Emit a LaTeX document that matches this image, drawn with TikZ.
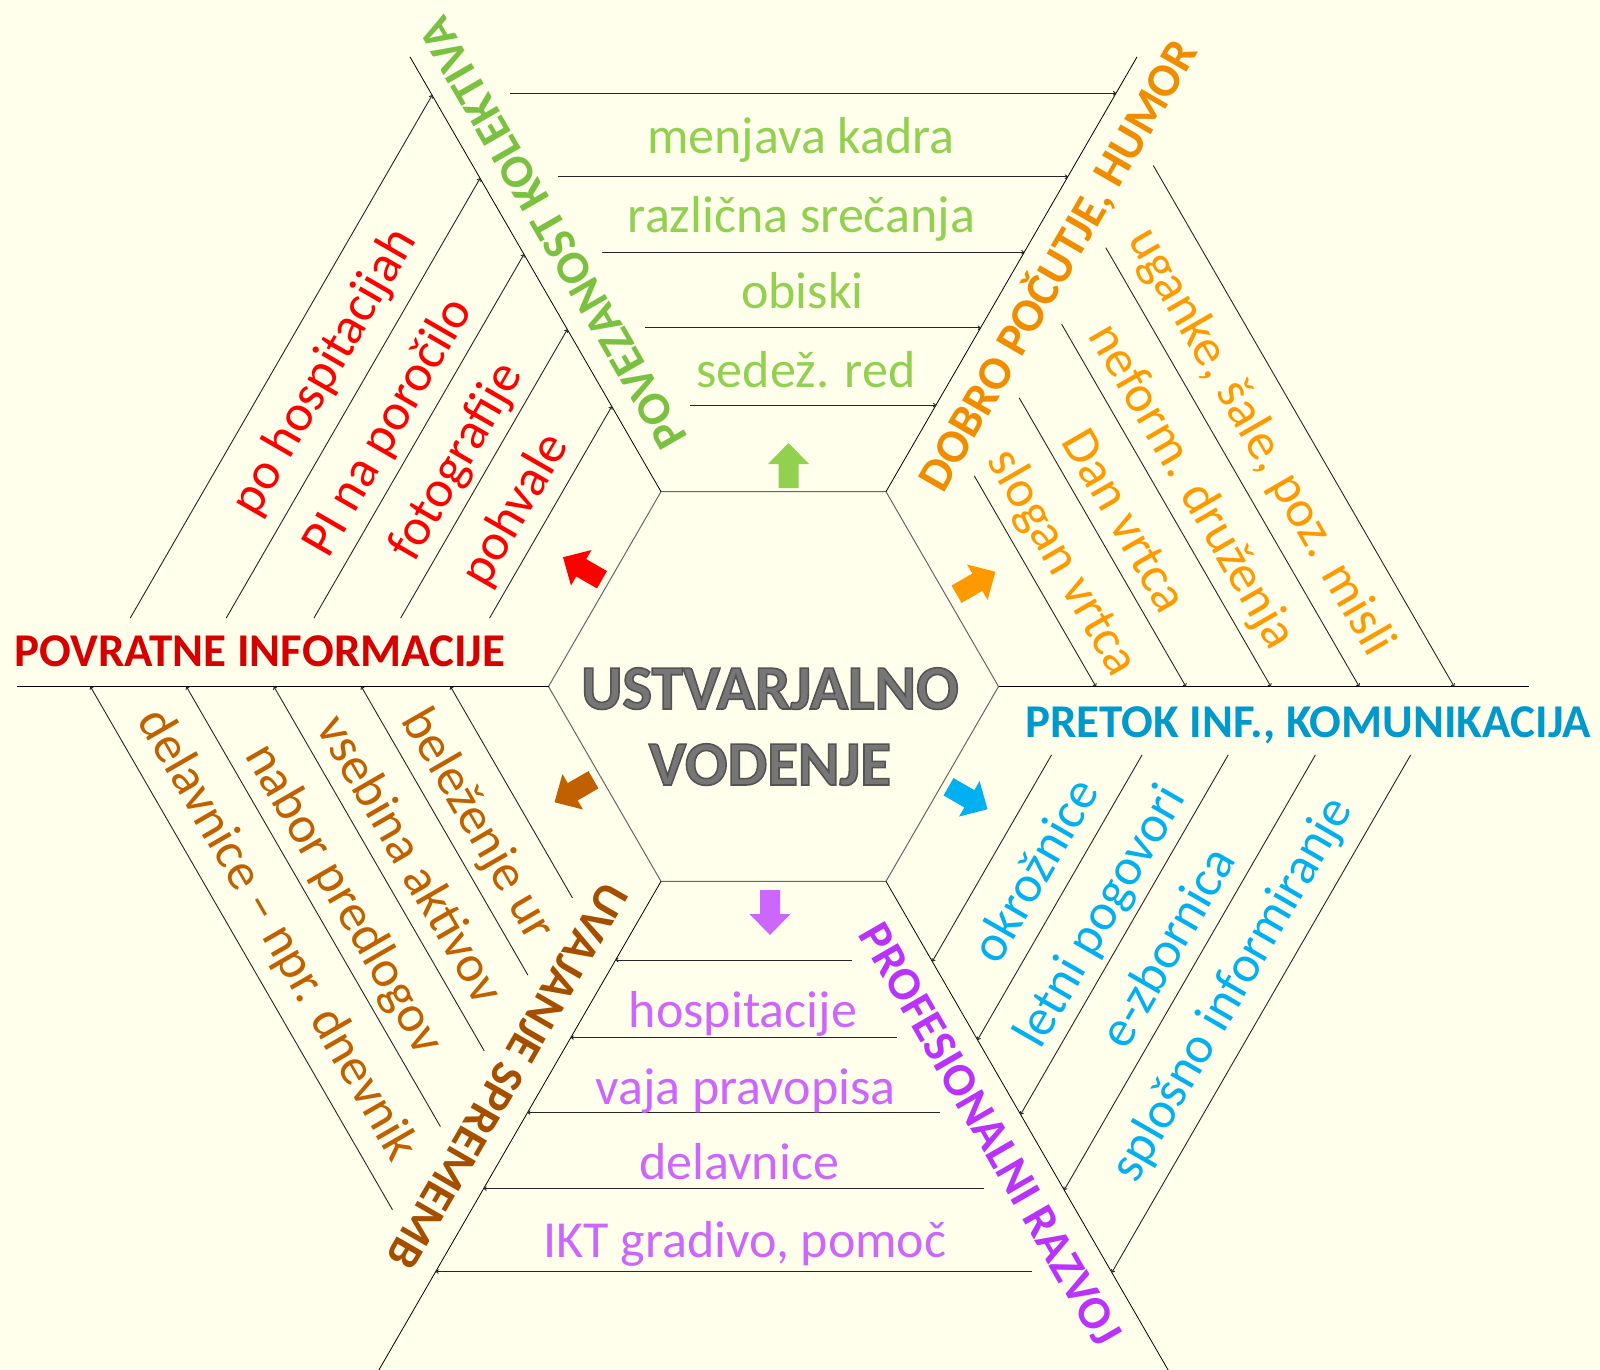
\documentclass[tikz,border=0pt]{standalone}
\usepackage{fontspec}
\setmainfont{Carlito}
\usetikzlibrary{arrows.meta,calc}
\definecolor{bg}{RGB}{255,255,235}
\definecolor{igreen}{RGB}{146,208,80}
\definecolor{lgreen}{RGB}{122,193,66}
\definecolor{iorange}{RGB}{255,153,0}
\definecolor{lorange}{RGB}{240,140,0}
\definecolor{iblue}{RGB}{0,176,240}
\definecolor{lblue}{RGB}{0,153,204}
\definecolor{ipurple}{RGB}{204,102,255}
\definecolor{lpurple}{RGB}{185,50,255}
\definecolor{ibrown}{RGB}{192,96,0}
\definecolor{lbrown}{RGB}{166,78,0}
\definecolor{ired}{RGB}{255,0,0}
\definecolor{lred}{RGB}{215,0,0}
\definecolor{cgray}{RGB}{118,118,118}
\newcommand{\myblockarrow}[4]{%
  \fill[#4, shift={(#1,-#2)}, rotate=#3] (-22.5,-10) -- (1.5,-10) -- (1.5,-20.5) -- (22.5,0) -- (1.5,20.5) -- (1.5,10) -- (-22.5,10) -- cycle;}
\newcommand{\myoutlined}[1]{\special{pdf:literal direct 2 Tr 1.6 w 0.33 G}#1\special{pdf:literal direct 0 Tr}}
\tikzset{
  itemtext/.style={font=\fontsize{52}{62}\selectfont, inner sep=0pt, text height=36.4pt, text depth=10.4pt, anchor=center},
  labeltext/.style={font=\bfseries\fontsize{47}{56}\selectfont, inner sep=0pt, text height=29.7pt, text depth=0pt, anchor=center},
  centertext/.style={font=\bfseries\fontsize{63}{76}\selectfont, inner sep=0pt, anchor=base, text=cgray},
  rib/.style={draw=black!85, line width=0.9pt, -{To[length=3pt,width=4.5pt]}},
  spoke/.style={draw=black, line width=0.8pt},
  hexedge/.style={draw=black!60, line width=1pt},
}
\begin{document}
\begin{tikzpicture}[x=1pt,y=1pt]
\useasboundingbox (0,0) rectangle (1600,-1369);
\fill[bg] (0,0) rectangle (1600,-1369);
\clip (0,0) rectangle (1600,-1369);
\coordinate (C) at (773.5,-686.5);
\foreach \k in {0,...,5} { \coordinate (V\k) at ($(C)+(60*\k:225)$); }
\coordinate (E0) at ($(C)+(0:755)$);
\coordinate (E1) at ($(C)+(60:727)$);
\coordinate (E2) at ($(C)+(120:727)$);
\coordinate (E3) at ($(C)+(180:757)$);
\coordinate (E4) at ($(C)+(240:820)$);
\coordinate (E5) at ($(C)+(300:820)$);
% hexagon and spokes
\draw[hexedge] (V0) -- (V1) -- (V2) -- (V3) -- (V4) -- (V5) -- cycle;
\foreach \k in {0,...,5} { \draw[spoke] (V\k) -- (E\k); }
% ribs
\foreach \D in {593.2,509.8,434.2,358.8,281.5} {
  \draw[rib] ($(C)+(90:\D)+(180:\D/1.7320508-79)$) -- ($(C)+(90:\D)+(0:\D/1.7320508)$); }
\foreach \D in {591.3,508.2,432.2,357.1,280.1} {
  \draw[rib] ($(C)+(150:\D)+(240:\D/1.7320508-79)$) -- ($(C)+(150:\D)+(60:\D/1.7320508)$); }
\foreach \D in {591.6,508.5,432.7,357,279.8} {
  \draw[rib] ($(C)+(210:\D)+(300:\D/1.7320508-79)$) -- ($(C)+(210:\D)+(120:\D/1.7320508)$); }
\foreach \D in {585,502,426,351,273.5} {
  \draw[rib] ($(C)+(270:\D)+(0:\D/1.7320508-79)$) -- ($(C)+(270:\D)+(180:\D/1.7320508)$); }
\foreach \D in {586,503.5,428,353.4,275} {
  \draw[rib] ($(C)+(330:\D)+(60:\D/1.7320508-79)$) -- ($(C)+(330:\D)+(240:\D/1.7320508)$); }
\foreach \D in {589.4,507.2,430.7,357.1,279.2} {
  \draw[rib] ($(C)+(30:\D)+(120:\D/1.7320508-79)$) -- ($(C)+(30:\D)+(-60:\D/1.7320508)$); }
% block arrows
\myblockarrow{788.5}{465.5}{90}{igreen}
\myblockarrow{582.5}{568.5}{150}{ired}
\myblockarrow{574}{791}{210}{ibrown}
\myblockarrow{770}{912.5}{270}{ipurple}
\myblockarrow{968}{798}{330}{iblue}
\myblockarrow{976}{583}{30}{iorange}
% top sector (green)
\node[itemtext, text=igreen] (g1) at ($(C)+(90:546.5)+(0:27.5)$) {menjava kadra};
\node[itemtext, text=igreen] (g2) at ($(C)+(90:467.5)+(0:28)$) {različna srečanja};
\node[itemtext, text=igreen] (g3) at ($(C)+(90:391.5)+(0:29)$) {obiski};
\node[itemtext, text=igreen] (g4) at ($(C)+(90:312.5)+(0:32.5)$) {sedež. red};
% upper-left sector (red)
\node[itemtext, text=ired, rotate=60] (r1) at ($(C)+(150:544.8)+(60:48)$) {po hospitacijah};
\node[itemtext, text=ired, rotate=60] (r2) at ($(C)+(150:461.7)+(60:32)$) {PI na poročilo};
\node[itemtext, text=ired, rotate=60] (r3) at ($(C)+(150:385.7)+(60:36)$) {fotografije};
\node[itemtext, text=ired, rotate=60] (r4) at ($(C)+(150:310.6)+(60:24)$) {pohvale};
% upper-right sector (orange)
\node[itemtext, text=iorange, rotate=-60] (o1) at ($(C)+(30:542.9)+(-60:32)$) {uganke, šale, poz. misli};
\node[itemtext, text=iorange, rotate=-60] (o2) at ($(C)+(30:460.7)+(-60:36)$) {neform. druženja};
\node[itemtext, text=iorange, rotate=-60] (o3) at ($(C)+(30:384.2)+(-60:32)$) {Dan vrtca};
\node[itemtext, text=iorange, rotate=-60] (o4) at ($(C)+(30:310.6)+(-60:37)$) {slogan vrtca};
% lower-left sector (brown)
\node[itemtext, text=ibrown, rotate=-60] (b1) at ($(C)+(210:555.5)+(120:33)$) {delavnice – npr. dnevnik};
\node[itemtext, text=ibrown, rotate=-60] (b2) at ($(C)+(210:479.7)+(120:30.6)$) {nabor predlogov};
\node[itemtext, text=ibrown, rotate=-60] (b3) at ($(C)+(210:404)+(120:31.6)$) {vsebina aktivov};
\node[itemtext, text=ibrown, rotate=-60] (b4) at ($(C)+(210:326.8)+(120:28)$) {beleženje ur};
% bottom sector (purple)
\node[itemtext, text=ipurple] (p1) at ($(C)+(270:327.5)+(180:30.5)$) {hospitacije};
\node[itemtext, text=ipurple] (p2) at ($(C)+(270:404.5)+(180:28)$) {vaja pravopisa};
\node[itemtext, text=ipurple] (p3) at ($(C)+(270:479.5)+(180:34.5)$) {delavnice};
\node[itemtext, text=ipurple] (p4) at ($(C)+(270:557.5)+(180:28.5)$) {IKT gradivo, pomoč};
% lower-right sector (blue)
\node[itemtext, text=iblue, rotate=60] (k1) at ($(C)+(330:322)+(240:28.5)$) {okrožnice};
\node[itemtext, text=iblue, rotate=60] (k2) at ($(C)+(330:400.4)+(240:35.6)$) {letni pogovori};
\node[itemtext, text=iblue, rotate=60] (k3) at ($(C)+(330:475)+(240:29)$) {e-zbornica};
\node[itemtext, text=iblue, rotate=60] (k4) at ($(C)+(330:550.5)+(240:33)$) {splošno informiranje};
% spoke labels
\node[labeltext, text=lred] (lblL) at (260,-652) {POVRATNE INFORMACIJE};
\node[labeltext, text=lblue] (lblR) at (1308,-722.5) {PRETOK INF., KOMUNIKACIJA};
\node[labeltext, text=lgreen, rotate=120] (lblTL) at ($(C)+(120:503)+(30:36)$) {POVEZANOST KOLEKTIVA};
\node[labeltext, text=lorange, rotate=60] (lblTR) at ($(C)+(60:507)+(-30:36)$) {DOBRO POČUTJE, HUMOR};
\node[labeltext, text=lpurple, rotate=-60] (lblBR) at ($(C)+(300:496)+(210:36)$) {PROFESIONALNI RAZVOJ};
\node[labeltext, text=lbrown, rotate=240] (lblBL) at ($(C)+(240:470)+(150:36)$) {UVAJANJE SPREMEMB};
% centre
\node[centertext] (ct1) at (770,-709) {\myoutlined{USTVARJALNO}};
\node[centertext] (ct2) at (770,-785) {\myoutlined{VODENJE}};
\end{tikzpicture}
\end{document}
